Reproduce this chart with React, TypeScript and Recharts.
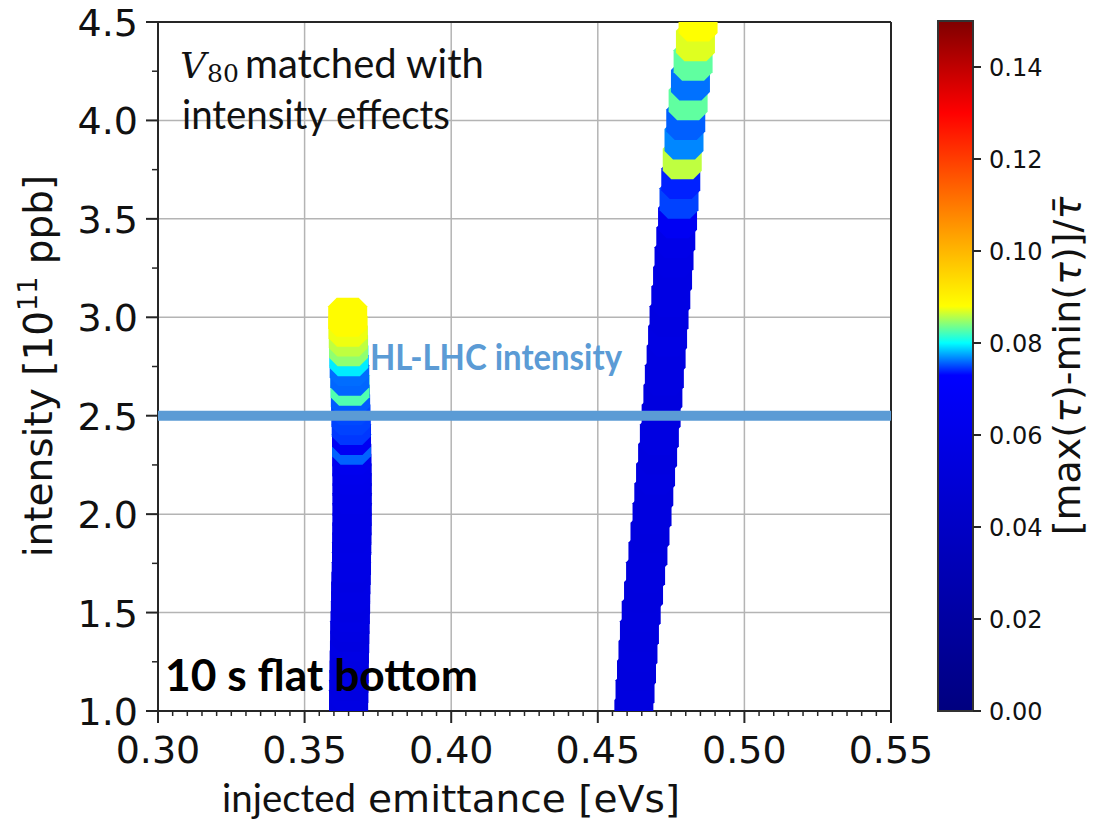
import React from "react";
import {
  ScatterChart,
  Scatter,
  XAxis,
  YAxis,
  CartesianGrid,
  ReferenceLine,
  BarChart,
  Bar,
} from "recharts";

const W = 1093;
const H = 822;

// plot box of the scatter and of the colour bar, in page pixels
const PLOT = { left: 158, top: 22, right: 891, bottom: 711 };
const CBAR = { left: 938, top: 21, right: 973, bottom: 711 };
const Y_AXIS_W = 100;
const X_AXIS_H = 60;
const CB_AXIS_W = 80;

const X_TICKS = [0.3, 0.35, 0.4, 0.45, 0.5, 0.55];
const Y_TICKS = [1.0, 1.5, 2.0, 2.5, 3.0, 3.5, 4.0, 4.5];
const CB_TICKS = [0, 0.02, 0.04, 0.06, 0.08, 0.1, 0.12, 0.14];
const CB_MAX = 0.15;

const HL_LHC_INTENSITY = 2.5;

// colour map: blue is stretched up to ~0.073, then cyan/yellow/red
const CMAP_VALUES = [0, 0.073, 0.08, 0.084, 0.088, 0.13, 0.15];
const CMAP_COLORS = ["#00007f", "#0000ff", "#00ffff", "#80ff80", "#ffff00", "#ff0000", "#7f0000"];

// scan at low emittance (0.05 steps in intensity)
const LOW_INTENSITY = [
  1.0, 1.05, 1.1, 1.15, 1.2, 1.25, 1.3, 1.35, 1.4, 1.45, 1.5, 1.55, 1.6, 1.65,
  1.7, 1.75, 1.8, 1.85, 1.9, 1.95, 2.0, 2.05, 2.1, 2.15, 2.2, 2.25, 2.3, 2.35,
  2.4, 2.45, 2.5, 2.55, 2.6, 2.65, 2.7, 2.75, 2.8, 2.85, 2.9, 2.95, 3.0,
];
const LOW_EMITTANCE = [
  0.365, 0.365, 0.3651, 0.3651, 0.3652, 0.3652, 0.3653, 0.3654, 0.3654, 0.3655,
  0.3656, 0.3657, 0.3657, 0.3658, 0.3659, 0.366, 0.366, 0.3661, 0.3661, 0.3662,
  0.3662, 0.3662, 0.3662, 0.3662, 0.3662, 0.3661, 0.3661, 0.366, 0.366, 0.3659,
  0.3658, 0.3657, 0.3656, 0.3655, 0.3654, 0.3652, 0.3651, 0.365, 0.3649, 0.3648,
  0.3647,
];
const LOW_SPREAD = [
  0.057, 0.056, 0.057, 0.056, 0.057, 0.056, 0.057, 0.058, 0.056, 0.057, 0.058,
  0.057, 0.058, 0.058, 0.057, 0.058, 0.058, 0.059, 0.058, 0.059, 0.059, 0.059,
  0.06, 0.06, 0.061, 0.062, 0.064, 0.0757, 0.066, 0.0745, 0.0748, 0.075, 0.0755,
  0.0825, 0.0758, 0.076, 0.0795, 0.0845, 0.086, 0.0875, 0.0885,
];

// scan at high emittance (0.1 steps in intensity)
const HIGH_INTENSITY = [
  1.0, 1.1, 1.2, 1.3, 1.4, 1.5, 1.6, 1.7, 1.8, 1.9, 2.0, 2.1, 2.2, 2.3, 2.4,
  2.5, 2.6, 2.7, 2.8, 2.9, 3.0, 3.1, 3.2, 3.3, 3.4, 3.5, 3.6, 3.7, 3.8, 3.9,
  4.0, 4.1, 4.2, 4.3, 4.4, 4.5,
];
const HIGH_EMITTANCE = [
  0.4623, 0.4627, 0.4632, 0.4637, 0.4642, 0.4648, 0.4656, 0.4663, 0.4671,
  0.4678, 0.4685, 0.4691, 0.4697, 0.4704, 0.471, 0.4716, 0.4722, 0.4727,
  0.4733, 0.4738, 0.4743, 0.4749, 0.4755, 0.476, 0.4766, 0.4772, 0.4777,
  0.4783, 0.4788, 0.4794, 0.48, 0.4808, 0.4816, 0.4825, 0.4833, 0.4842,
];
const HIGH_SPREAD = [
  0.054, 0.055, 0.054, 0.055, 0.054, 0.055, 0.054, 0.055, 0.055, 0.054, 0.055,
  0.055, 0.056, 0.055, 0.056, 0.056, 0.055, 0.056, 0.056, 0.057, 0.056, 0.057,
  0.057, 0.058, 0.06, 0.066, 0.0748, 0.0739, 0.086, 0.0767, 0.0756, 0.083,
  0.0761, 0.083, 0.087, 0.088,
];

const toPoints = (xs: number[], ys: number[], vs: number[]) =>
  ys.map((y, i) => ({ emittance: xs[i], intensity: y, spread: vs[i] }));

const lowScan = toPoints(LOW_EMITTANCE, LOW_INTENSITY, LOW_SPREAD);
const highScan = toPoints(HIGH_EMITTANCE, HIGH_INTENSITY, HIGH_SPREAD);
const hlLine = [
  { emittance: X_TICKS[0], intensity: HL_LHC_INTENSITY },
  { emittance: X_TICKS[X_TICKS.length - 1], intensity: HL_LHC_INTENSITY },
];

// minor ticks: every 0.005 on x, every 0.25 on y
const X_ALL = Array.from({ length: 51 }, (_, i) => +(0.3 + i * 0.005).toFixed(3));
const Y_ALL = Array.from({ length: 15 }, (_, i) => +(1 + i * 0.25).toFixed(2));

const isMajor = (list: number[], v: number) => list.some((t) => Math.abs(t - v) < 1e-6);

const hexToRgb = (h: string) => [1, 3, 5].map((i) => parseInt(h.slice(i, i + 2), 16));

function spreadColor(v: number) {
  if (v <= CMAP_VALUES[0]) return CMAP_COLORS[0];
  for (let i = 1; i < CMAP_VALUES.length; i++) {
    if (v <= CMAP_VALUES[i]) {
      const t = (v - CMAP_VALUES[i - 1]) / (CMAP_VALUES[i] - CMAP_VALUES[i - 1]);
      const a = hexToRgb(CMAP_COLORS[i - 1]);
      const b = hexToRgb(CMAP_COLORS[i]);
      const c = a.map((ch, k) => Math.round(ch + (b[k] - ch) * t));
      return `rgb(${c[0]},${c[1]},${c[2]})`;
    }
  }
  return CMAP_COLORS[CMAP_COLORS.length - 1];
}

const AXIS_COLOR = "#262626";
const TICK_FONT = "'DejaVu Sans', sans-serif";
const NOTE_FONT = "Lato, 'Open Sans', sans-serif";
const MATH_FONT = "'DejaVu Serif', 'Liberation Serif', serif";

// big round marker, drawn as an octagon
function Marker(props: any) {
  const { cx, cy, payload } = props;
  if (cx == null || cy == null) return null;
  const r = 19.5;
  const c = 8.5;
  const pts = [
    [-r + c, -r], [r - c, -r], [r, -r + c], [r, r - c],
    [r - c, r], [-r + c, r], [-r, r - c], [-r, -r + c],
  ];
  return (
    <polygon
      points={pts.map(([dx, dy]) => `${cx + dx},${cy + dy}`).join(" ")}
      fill={spreadColor(payload.spread)}
    />
  );
}

function XTick(props: any) {
  const { x, y, payload } = props;
  const major = isMajor(X_TICKS, payload.value);
  return (
    <g>
      <line x1={x} y1={y} x2={x} y2={y + (major ? 12 : 5)} stroke={AXIS_COLOR} strokeWidth={major ? 2 : 1.5} />
      {major && (
        <text x={x} y={y + 52} textAnchor="middle" fontFamily={TICK_FONT} fontSize={38} fill="#111">
          {payload.value.toFixed(2)}
        </text>
      )}
    </g>
  );
}

function YTick(props: any) {
  const { x, y, payload } = props;
  const major = isMajor(Y_TICKS, payload.value);
  return (
    <g>
      <line x1={x - (major ? 12 : 6)} y1={y} x2={x} y2={y} stroke={AXIS_COLOR} strokeWidth={major ? 2 : 1.5} />
      {major && (
        <text x={x - 20} y={y + 14} textAnchor="end" fontFamily={TICK_FONT} fontSize={38} fill="#111">
          {payload.value.toFixed(1)}
        </text>
      )}
    </g>
  );
}

function CbTick(props: any) {
  const { x, y, payload } = props;
  return (
    <g>
      <line x1={x} y1={y} x2={x + 8} y2={y} stroke={AXIS_COLOR} strokeWidth={2} />
      <text x={x + 16} y={y + 8.5} textAnchor="start" fontFamily={TICK_FONT} fontSize={24} fill="#111">
        {payload.value.toFixed(2)}
      </text>
    </g>
  );
}

function ColorBar() {
  return (
    <BarChart
      width={W}
      height={H}
      data={[{ key: "spread", v: CB_MAX }]}
      barCategoryGap={0}
      margin={{ top: CBAR.top, bottom: H - CBAR.bottom, left: CBAR.left, right: W - CBAR.right - CB_AXIS_W }}
    >
      <XAxis dataKey="key" hide />
      <YAxis
        orientation="right"
        type="number"
        domain={[0, CB_MAX]}
        ticks={CB_TICKS}
        interval={0}
        width={CB_AXIS_W}
        axisLine={false}
        tickLine={false}
        tickSize={0}
        tickMargin={0}
        tick={<CbTick />}
      />
      <Bar dataKey="v" fill="url(#spreadGradient)" stroke="#333" strokeWidth={2} isAnimationActive={false} />
    </BarChart>
  );
}

export default function App() {
  const layer: React.CSSProperties = { position: "absolute", left: 0, top: 0 };
  return (
    <div style={{ position: "absolute", left: 0, top: 0, width: W, height: H, background: "#fff" }}>
      <svg width={0} height={0} style={{ position: "absolute" }}>
        <defs>
          <linearGradient id="spreadGradient" x1="0" y1="1" x2="0" y2="0">
            {CMAP_VALUES.map((v, i) => (
              <stop key={i} offset={v / CB_MAX} stopColor={CMAP_COLORS[i]} />
            ))}
          </linearGradient>
        </defs>
      </svg>

      <div style={layer}>
        <ScatterChart
          width={W}
          height={H}
          margin={{
            top: PLOT.top,
            right: W - PLOT.right,
            bottom: H - PLOT.bottom - X_AXIS_H,
            left: PLOT.left - Y_AXIS_W,
          }}
        >
          <CartesianGrid
            stroke="#b4b4b4"
            strokeWidth={1.5}
            verticalValues={X_TICKS}
            horizontalValues={Y_TICKS}
          />
          <XAxis
            type="number"
            dataKey="emittance"
            domain={[0.3, 0.55]}
            ticks={X_ALL}
            interval={0}
            allowDataOverflow
            height={X_AXIS_H}
            axisLine={{ stroke: AXIS_COLOR, strokeWidth: 2 }}
            tickLine={false}
            tickSize={0}
            tickMargin={0}
            tick={<XTick />}
          />
          <YAxis
            type="number"
            dataKey="intensity"
            domain={[1.0, 4.5]}
            ticks={Y_ALL}
            interval={0}
            allowDataOverflow
            width={Y_AXIS_W}
            axisLine={{ stroke: AXIS_COLOR, strokeWidth: 2 }}
            tickLine={false}
            tickSize={0}
            tickMargin={0}
            tick={<YTick />}
          />
          <Scatter data={lowScan} shape={<Marker />} isAnimationActive={false} />
          <Scatter data={highScan} shape={<Marker />} isAnimationActive={false} />
          <Scatter
            data={hlLine}
            line={{ stroke: "#5b9bd5", strokeWidth: 10 }}
            shape={() => <g />}
            isAnimationActive={false}
          />
          <ReferenceLine y={4.5} stroke={AXIS_COLOR} strokeWidth={2} />
          <ReferenceLine x={0.55} stroke={AXIS_COLOR} strokeWidth={2} />
        </ScatterChart>
      </div>

      <div style={layer}>
        <ColorBar />
      </div>

      <svg width={W} height={H} style={{ ...layer, pointerEvents: "none" }}>
        {/* axis titles */}
        <text transform="translate(52,366) rotate(-90)" textAnchor="middle" fontFamily={TICK_FONT} fontSize={39} fill="#111">
          intensity [10<tspan dy={-15} fontSize={27}>11</tspan>
          <tspan dy={15}> ppb]</tspan>
        </text>
        <text x={222} y={812} fontFamily={NOTE_FONT} fontSize={38} fill="#111" textLength={134} lengthAdjust="spacingAndGlyphs">
          injected
        </text>
        <text x={368} y={812} fontFamily={TICK_FONT} fontSize={38} fill="#111" textLength={312} lengthAdjust="spacingAndGlyphs">
          emittance [eVs]
        </text>
        <text transform="translate(1080,366) rotate(-90)" textAnchor="middle" fontFamily={TICK_FONT} fontSize={38} fill="#111">
          [max(<tspan fontStyle="italic">τ</tspan>)-min(<tspan fontStyle="italic">τ</tspan>)]/<tspan fontStyle="italic">τ̄</tspan>
        </text>

        {/* annotations */}
        <text x={180} y={78} fill="#111">
          <tspan fontFamily={MATH_FONT} fontStyle="italic" fontSize={36}>V</tspan>
          <tspan x={207} dy={4} fontFamily={MATH_FONT} fontSize={25}>80</tspan>
          <tspan x={245} dy={-4} fontFamily={NOTE_FONT} fontSize={40}>matched with</tspan>
        </text>
        <text x={182} y={129} fontFamily={NOTE_FONT} fontSize={40} fill="#111" textLength={268} lengthAdjust="spacingAndGlyphs">
          intensity effects
        </text>
        <text x={370} y={370} fontFamily={NOTE_FONT} fontWeight="bold" fontSize={36} fill="#5b9bd5" textLength={252} lengthAdjust="spacingAndGlyphs">
          HL-LHC intensity
        </text>
        <text x={165} y={691} fontFamily={NOTE_FONT} fontWeight="bold" fontSize={43} fill="#000" textLength={313} lengthAdjust="spacingAndGlyphs">
          10 s flat bottom
        </text>
      </svg>
    </div>
  );
}
